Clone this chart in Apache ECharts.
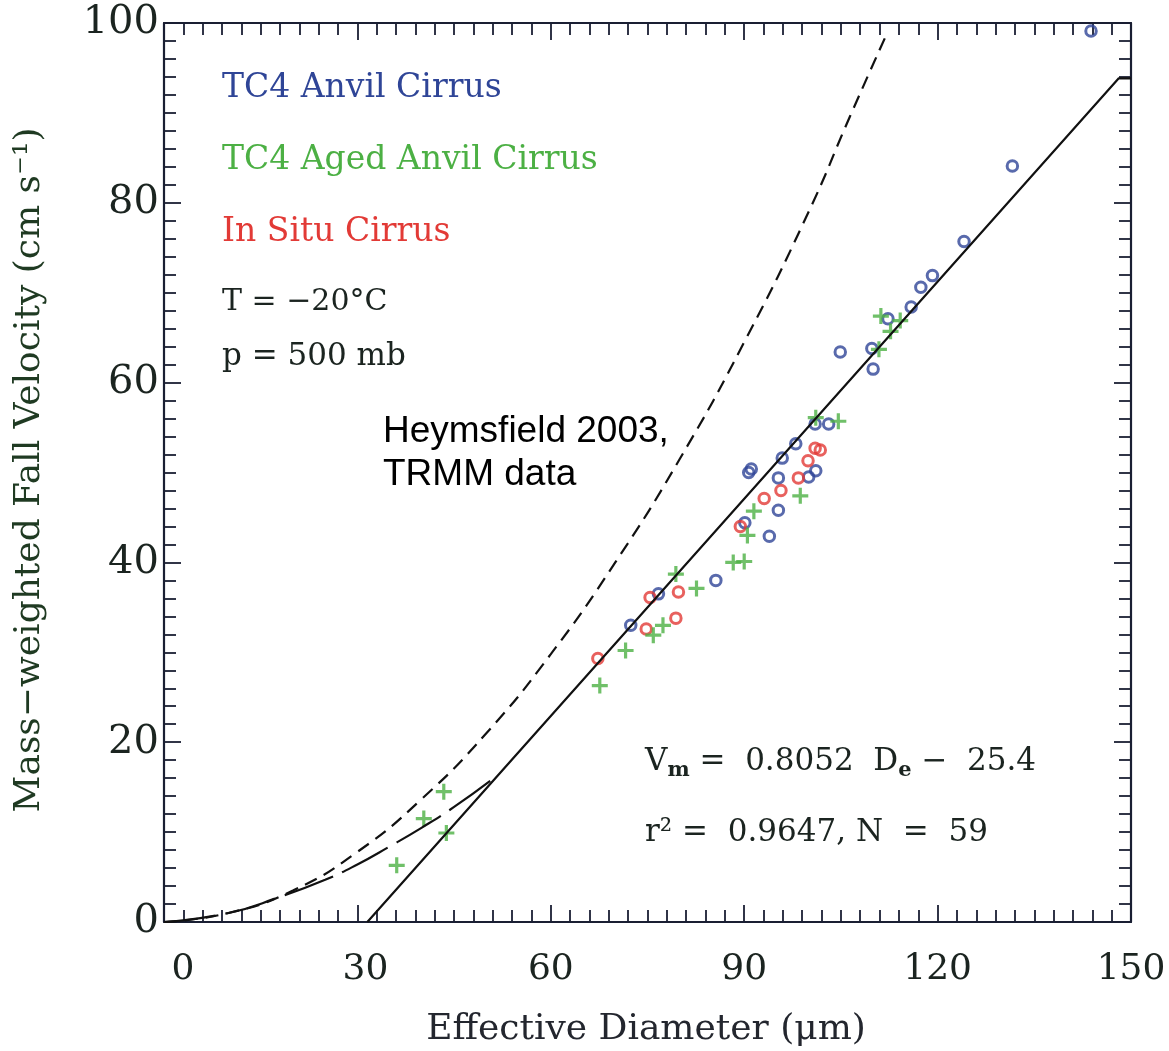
<!DOCTYPE html>
<html>
<head>
<meta charset="utf-8">
<script src="https://cdn.jsdelivr.net/npm/echarts@6/dist/echarts.min.js"></script>
<style>
html,body{margin:0;padding:0;background:#fff;}
#chart{width:1169px;height:1051px;}
</style>
</head>
<body>
<div id="chart"></div>
<script>
// ---- data ----
const xTickLabels = ['0', '30', '60', '90', '120', '150'];
const yTickLabels = ['0', '20', '40', '60', '80', '100'];

// TC4 Anvil Cirrus (blue circles) [De, Vm]
const anvil = [
  [72.4, 33.0], [76.7, 36.5], [85.6, 38.0], [93.9, 42.9], [90.1, 44.4],
  [95.3, 45.8], [95.3, 49.4], [100.0, 49.5], [101.1, 50.2], [90.7, 50.0],
  [91.1, 50.4], [95.9, 51.6], [98.0, 53.2], [101.0, 55.4], [103.1, 55.4],
  [104.9, 63.4], [110.0, 61.5], [109.8, 63.8], [112.3, 67.1], [115.9, 68.4],
  [117.4, 70.6], [119.2, 71.9], [124.1, 75.7], [131.6, 84.1], [143.8, 99.1]
];
// TC4 Aged Anvil Cirrus (green plus)
const aged = [
  [36.1, 6.3], [40.3, 11.5], [43.4, 14.5], [43.8, 9.9],
  [67.6, 26.3], [71.6, 30.2], [75.9, 31.9], [77.4, 33.0], [79.4, 38.7],
  [82.6, 37.1], [88.3, 40.0], [90.0, 40.1], [90.5, 43.0], [91.5, 45.7],
  [98.7, 47.4], [101.1, 56.1], [104.6, 55.7], [110.9, 63.7], [112.7, 65.7],
  [111.2, 67.4], [114.2, 66.9]
];
// In Situ Cirrus (red circles)
const insitu = [
  [67.3, 29.3], [75.4, 36.1], [79.8, 36.7], [74.8, 32.6], [79.4, 33.8],
  [89.4, 44.0], [93.1, 47.1], [95.7, 48.0], [98.4, 49.4], [99.9, 51.3],
  [101.0, 52.7], [101.8, 52.5]
];
// Fit line Vm = 0.8052 De - 25.4 (end points)
const fitLine = [[31.54, 0], [148.1, 93.85], [150, 93.85]];
// Heymsfield 2003 curve (short dashes)
const heymsCurve = [
  [0, 0], [10, 1.0], [20, 3.5], [30, 7.8], [40, 13.7], [50, 21.0], [60, 29.8],
  [70, 40.0], [80, 51.5], [90, 64.5], [100, 79.0], [106.4, 89.6], [112, 98.6]
];
// long-dash curve near the origin
const lowCurve = [
  [0, 0], [10, 1.0], [18, 2.8], [25, 4.7], [30, 6.4], [35, 8.4], [40, 10.5],
  [45, 12.8], [50.6, 15.7]
];

const BLUE = '#2f4597', GREEN = '#4cb044', RED = '#e23a36', AXIS = '#1a1f33', TXT = '#1b2420';
const SERIF = '"DejaVu Serif", serif';
const PLUS = 'path://M4.8,0H7.2V4.8H12V7.2H7.2V12H4.8V7.2H0V4.8H4.8Z';

const chart = echarts.init(document.getElementById('chart'), null, {renderer: 'canvas'});

function axisCommon(extra) {
  return Object.assign({
    type: 'value',
    axisLine: {show: true, onZero: false, lineStyle: {color: AXIS, width: 2.2}},
    axisTick: {show: true, inside: true, length: 17, lineStyle: {color: AXIS, width: 1.8}},
    minorTick: {show: true, splitNumber: 10, length: 12, lineStyle: {color: AXIS, width: 1.8}},
    splitLine: {show: false},
    minorSplitLine: {show: false}
  }, extra);
}

const xLabelStyle = {fontFamily: SERIF, fontSize: 36, color: TXT};

const option = {
  backgroundColor: '#fff',
  animation: false,
  grid: {left: 164, right: 38, top: 23, bottom: 129},
  xAxis: [
    axisCommon({min: 0, max: 150, interval: 30, position: 'bottom',
      axisLabel: {show: true, margin: 30, fontFamily: SERIF, fontSize: 36, color: TXT,
        formatter: v => {
          const i = Math.round(v / 30);
          if (i === 0) return '{a|' + xTickLabels[i] + '}';
          if (i === 1) return '{b|' + xTickLabels[i] + '}';
          return xTickLabels[i];
        },
        rich: {
          a: Object.assign({padding: [0, 0, 0, 38]}, xLabelStyle),
          b: Object.assign({padding: [0, 0, 0, 16]}, xLabelStyle)
        }}}),
    axisCommon({min: 0, max: 150, interval: 30, position: 'top', axisLabel: {show: false}})
  ],
  yAxis: [
    axisCommon({min: 0, max: 100, interval: 20, position: 'left',
      axisLabel: {show: true, margin: 5, fontFamily: SERIF, fontSize: 40, color: TXT,
        formatter: v => yTickLabels[Math.round(v / 20)]}}),
    axisCommon({min: 0, max: 100, interval: 20, position: 'right', axisLabel: {show: false}})
  ],
  series: [
    {type: 'line', data: heymsCurve, smooth: true, showSymbol: false,
      lineStyle: {color: '#111', width: 2.2, type: [13, 8]}},
    {type: 'line', data: lowCurve, smooth: true, showSymbol: false,
      lineStyle: {color: '#111', width: 2.2, type: [52, 10]}},
    {type: 'line', data: fitLine, showSymbol: false,
      lineStyle: {color: '#111', width: 2.2}},
    {type: 'scatter', name: 'TC4 Anvil Cirrus', data: anvil, symbol: 'circle', symbolSize: 10.5,
      itemStyle: {color: 'rgba(0,0,0,0)', borderColor: BLUE, borderWidth: 3}},
    {type: 'scatter', name: 'In Situ Cirrus', data: insitu, symbol: 'circle', symbolSize: 10.5,
      itemStyle: {color: 'rgba(0,0,0,0)', borderColor: RED, borderWidth: 3}},
    {type: 'scatter', name: 'TC4 Aged Anvil Cirrus', data: aged, symbol: PLUS, symbolSize: 16,
      itemStyle: {color: GREEN}}
  ],
  graphic: [
    {type: 'text', x: 222, y: 88, style: {text: 'TC4 Anvil Cirrus', font: '33px ' + SERIF, fill: BLUE, verticalAlign: 'middle'}},
    {type: 'text', x: 222, y: 160, style: {text: 'TC4 Aged Anvil Cirrus', font: '33px ' + SERIF, fill: GREEN, verticalAlign: 'middle'}},
    {type: 'text', x: 222, y: 232, style: {text: 'In Situ Cirrus', font: '33px ' + SERIF, fill: RED, verticalAlign: 'middle'}},
    {type: 'text', x: 222, y: 302, style: {text: 'T = \u221220\u00B0C', font: '30px ' + SERIF, fill: TXT, verticalAlign: 'middle'}},
    {type: 'text', x: 222, y: 357, style: {text: 'p = 500 mb', font: '31px ' + SERIF, fill: TXT, verticalAlign: 'middle'}},
    {type: 'text', x: 383, y: 432, style: {text: 'Heymsfield 2003,', font: '37px "Liberation Sans", Arial, sans-serif', fill: '#000', verticalAlign: 'middle'}},
    {type: 'text', x: 383, y: 475, style: {text: 'TRMM data', font: '37px "Liberation Sans", Arial, sans-serif', fill: '#000', verticalAlign: 'middle'}},
    {type: 'text', x: 645, y: 762, style: {
      text: '{n|V}{s|m}{n| =  0.8052  D}{s|e}{n| \u2212  25.4}',
      verticalAlign: 'middle', fill: TXT,
      rich: {
        n: {fontFamily: SERIF, fontSize: 31, lineHeight: 38, color: TXT},
        s: {fontFamily: SERIF, fontSize: 21, fontWeight: 'bold', lineHeight: 21, verticalAlign: 'bottom', color: TXT}
      }}},
    {type: 'text', x: 645, y: 833, style: {text: 'r\u00B2 =  0.9647, N  =  59', font: '31px ' + SERIF, fill: TXT, verticalAlign: 'middle'}},
    {type: 'text', x: 646, y: 1030, style: {text: 'Effective Diameter (\u03BCm)', font: '36px ' + SERIF, fill: '#23262e', align: 'center', verticalAlign: 'middle'}},
    {type: 'text', x: 30, y: 470, rotation: Math.PI / 2, style: {text: 'Mass\u2212weighted Fall Velocity (cm s\u207B\u00B9)', font: '36px ' + SERIF, fill: '#1f3a22', align: 'center', verticalAlign: 'middle'}}
  ]
};
chart.setOption(option);
</script>
</body>
</html>
